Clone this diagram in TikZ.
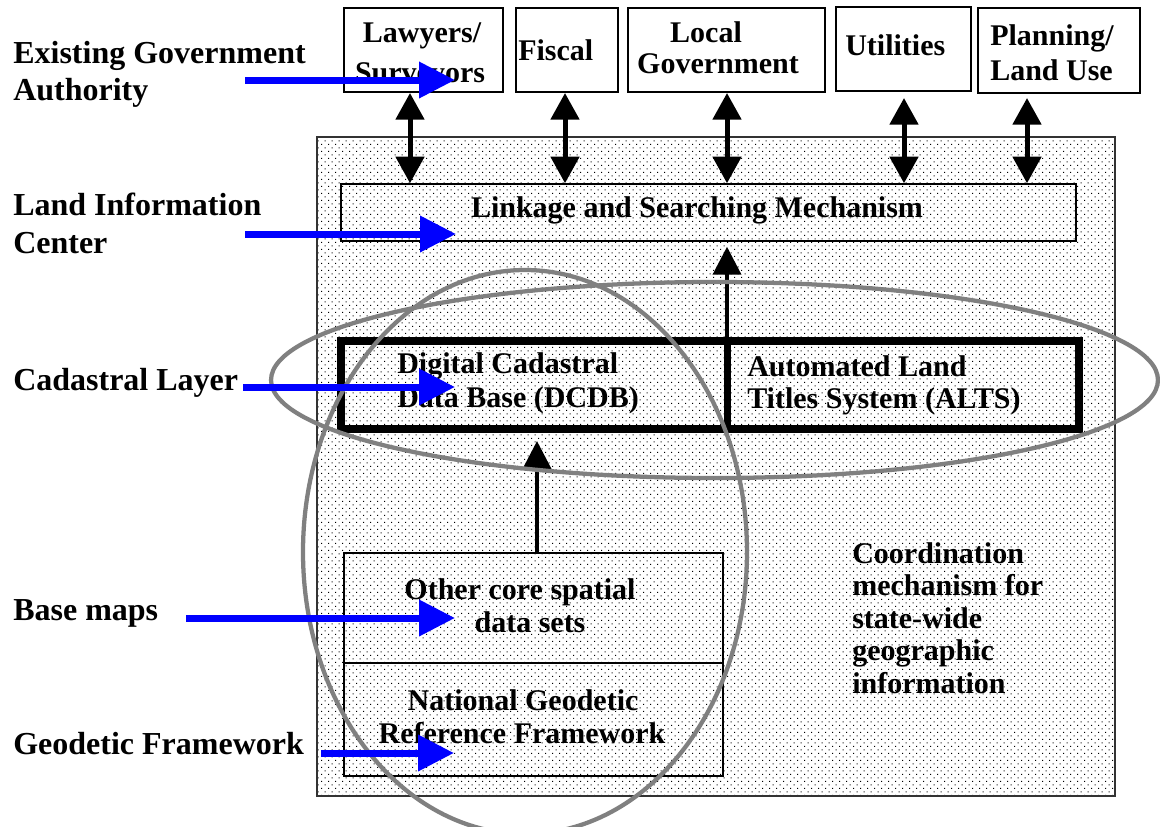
\documentclass[tikz,border=0pt]{standalone}
\usepackage{fontspec}
\setmainfont{Liberation Serif}
\usetikzlibrary{arrows.meta,patterns}
\pgfdeclarepatternformonly{sdots}{\pgfqpoint{0pt}{0pt}}{\pgfqpoint{5.6pt}{5.6pt}}{\pgfqpoint{5.6pt}{5.6pt}}{%
  \pgfpathrectangle{\pgfqpoint{0.9pt}{0.9pt}}{\pgfqpoint{0.9pt}{0.9pt}}%
  \pgfpathrectangle{\pgfqpoint{3.7pt}{3.7pt}}{\pgfqpoint{0.9pt}{0.9pt}}%
  \pgfusepath{fill}}
\definecolor{ellgray}{RGB}{128,128,128}
\definecolor{arrblue}{RGB}{0,0,255}
\begin{document}
\begin{tikzpicture}[x=0.75pt,y=-0.75pt,
  lbl/.style={font=\fontsize{24}{28}\selectfont\bfseries, inner sep=0, anchor=base west},
  txt/.style={font=\fontsize{22.5}{26}\selectfont\bfseries, inner sep=0, anchor=base},
  txtl/.style={txt, anchor=base west},
  topbox/.style={draw=black, line width=1.5pt, fill=white, inner sep=0, minimum height=63pt},
  inbox/.style={draw=black, line width=1.1pt, inner sep=0},
  dblarrow/.style={line width=3.75pt, {Triangle[length=20pt,width=21pt]}-{Triangle[length=20pt,width=21pt]}},
  uparrow/.style={line width=3pt, -{Triangle[length=21pt,width=21pt]}},
  bluearrow/.style={draw=arrblue, line width=5.25pt, -{Triangle[length=27pt,width=26.25pt]}},
  ell/.style={draw=ellgray, line width=3.2pt}
]
\useasboundingbox (0,0) rectangle (1160,826);
\fill[white] (0,0) rectangle (1160,826);

% coordination area
\node[draw=black!80, line width=1pt, pattern=sdots, pattern color=black, inner sep=0,
      minimum width=598.5pt, minimum height=494.25pt] (coord) at (716,466.5) {};

% top boxes
\node[topbox, minimum width=119.25pt] (law) at (423.5,50) {};
\node[topbox, minimum width=76.5pt] (fis) at (567,50) {};
\node[topbox, minimum width=147.75pt] (loc) at (726.5,50) {};
\node[topbox, minimum width=101.25pt] (uti) at (903.5,49) {};
\node[topbox, minimum width=121.5pt, minimum height=63.75pt] (pla) at (1059,50.5) {};

% inner boxes
\node[inbox, minimum width=551.25pt, minimum height=42.75pt] (link) at (708.5,212.5) {};
\node[draw=black, line width=6pt, inner sep=0, minimum width=553.5pt, minimum height=66pt] (cad) at (710,385) {};
\draw[line width=5.25pt] (727,0 |- cad.north) -- (727,0 |- cad.south);
\node[inbox, minimum width=284.25pt, minimum height=82.5pt] (oth) at (533.5,608) {};
\node[inbox, minimum width=284.25pt, minimum height=84.75pt] (nat) at (533.5,719.5) {};

% black arrows
\draw[dblarrow] (410,0 |- law.south) -- (410,0 |- link.north);
\draw[dblarrow] (565,0 |- fis.south) -- (565,0 |- link.north);
\draw[dblarrow] (727,0 |- loc.south) -- (727,0 |- link.north);
\draw[dblarrow, shorten <=4.5pt] (904,0 |- uti.south) -- (904,0 |- link.north);
\draw[dblarrow, shorten <=3pt] (1027,0 |- pla.south) -- (1027,0 |- link.north);
\draw[uparrow, shorten >=3.75pt] (727,0 |- cad.north) -- (727,0 |- link.south);
\draw[uparrow, shorten >=6pt] (537,0 |- oth.north) -- (537,0 |- cad.south);

% gray ellipses
\draw[ell] (714.5,380) ellipse [x radius=332.6pt, y radius=73.5pt];
\draw[ell] (525,552) ellipse [x radius=166.5pt, y radius=211.5pt];

% texts in boxes
\node[txt] (lawt1) at (422,42) {Lawyers/};
\node[txt] (lawt2) at (420,82) {Surveyors};
\node[txtl] (fist) at (518,60) {Fiscal};
\node[txt] (loct1) at (706,42) {Local};
\node[txt] (loct2) at (718,73) {Government};
\node[txtl] (utit) at (845,55) {Utilities};
\node[txtl] (plat1) at (990,45) {Planning/};
\node[txtl] (plat2) at (990,80) {Land Use};
\node[txt] (linkt) at (697,217) {Linkage and Searching Mechanism};
\node[txtl] (dcdb1) at (397,373) {Digital Cadastral};
\node[txtl] (dcdb2) at (397,407) {Data Base (DCDB)};
\node[txtl] (alts1) at (747,376) {Automated Land};
\node[txtl] (alts2) at (747,408) {Titles System (ALTS)};
\node[txt] (otht1) at (520,599) {Other core spatial};
\node[txt] (otht2) at (530,632) {data sets};
\node[txt] (natt1) at (523,710) {National Geodetic};
\node[txt] (natt2) at (522,743) {Reference Framework};
\node[txtl] (co1) at (852,563) {Coordination};
\node[txtl] (co2) at (852,595) {mechanism for};
\node[txtl] (co3) at (852,628) {state-wide};
\node[txtl] (co4) at (852,660) {geographic};
\node[txtl] (co5) at (852,693) {information};

% left labels
\node[lbl] (l1a) at (13,63) {Existing Government};
\node[lbl] (l1b) at (13,100) {Authority};
\node[lbl] (l2a) at (13,215) {Land Information};
\node[lbl] (l2b) at (13,253) {Center};
\node[lbl] (l3) at (13,390) {Cadastral Layer};
\node[lbl] (l4) at (13,620) {Base maps};
\node[lbl] (l5) at (13,754) {Geodetic Framework};

% blue arrows
\coordinate (b1s) at (245,80);  \coordinate (b1e) at (455,80);
\coordinate (b2s) at (245,234); \coordinate (b2e) at (456,234);
\coordinate (b3s) at (243,387); \coordinate (b3e) at (455,387);
\coordinate (b4s) at (186,618); \coordinate (b4e) at (455,618);
\coordinate (b5s) at (321,753); \coordinate (b5e) at (454,753);
\draw[bluearrow] (b1s) -- (b1e);
\draw[bluearrow] (b2s) -- (b2e);
\draw[bluearrow] (b3s) -- (b3e);
\draw[bluearrow] (b4s) -- (b4e);
\draw[bluearrow] (b5s) -- (b5e);
\end{tikzpicture}
\end{document}
